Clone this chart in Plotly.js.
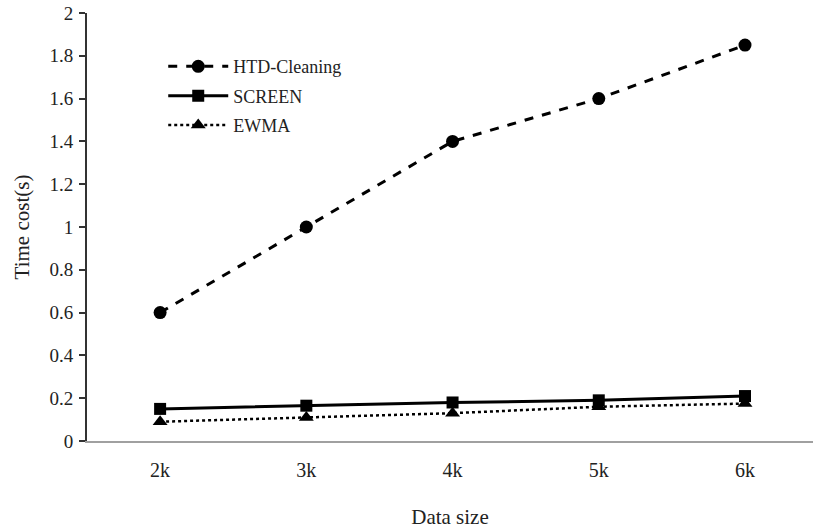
<!DOCTYPE html>
<html><head><meta charset="utf-8">
<script src="https://cdn.plot.ly/plotly-3.0.1.min.js"></script>
<style>html,body{margin:0;padding:0;background:#fff}</style>
</head><body>
<div id="chart" style="width:813px;height:529px"></div>
<script>
const categories = ["2k", "3k", "4k", "5k", "6k"];
const htdCleaning = [0.6, 1.0, 1.4, 1.6, 1.85];
const screen = [0.15, 0.165, 0.18, 0.19, 0.21];
const ewma = [0.09, 0.11, 0.13, 0.16, 0.175];
const yTicks = [0, 0.2, 0.4, 0.6, 0.8, 1, 1.2, 1.4, 1.6, 1.8, 2];

const font = "Liberation Serif, Times New Roman, serif";
const txt = "#222";
const traces = [
  {x: categories, y: htdCleaning, name: "HTD-Cleaning", mode: "lines+markers", legendgroup: "a",
   line: {color: "#000", width: 3, dash: "dash"}, marker: {symbol: "circle", size: 13, color: "#000"}},
  {x: categories, y: screen, name: "SCREEN", mode: "lines+markers", legendgroup: "b",
   line: {color: "#000", width: 3}, marker: {symbol: "square", size: 12, color: "#000"}},
  {x: categories, y: ewma, name: "EWMA", mode: "lines+markers", legendgroup: "c",
   line: {color: "#000", width: 2.5, dash: "dot"}, marker: {symbol: "triangle-up", size: 13, color: "#000"}}
];
const layout = {
  width: 813, height: 529,
  margin: {l: 87, r: 0, t: 13, b: 88},
  paper_bgcolor: "#fff", plot_bgcolor: "#fff",
  font: {family: font, size: 19, color: txt},
  showlegend: true,
  legend: {x: 0.105, y: 0.918, xanchor: "left", yanchor: "top", bgcolor: "rgba(0,0,0,0)",
           font: {family: font, size: 18, color: txt}, tracegroupgap: 3, itemwidth: 60},
  xaxis: {type: "category", range: [-0.5, 4.465], showgrid: false, zeroline: false,
          showline: true, linecolor: "#a0a0a0", linewidth: 2, ticks: "", ticklabelstandoff: 10,
          tickfont: {family: font, size: 20, color: txt},
          title: {text: "Data size", font: {family: font, size: 21, color: txt}, standoff: 30}},
  yaxis: {range: [0, 2], tickvals: yTicks, ticktext: yTicks.map(String), showgrid: false, zeroline: false,
          showline: true, linecolor: "#333", linewidth: 2, ticks: "outside", ticklen: 6, tickwidth: 2, tickcolor: "#333",
          ticklabelstandoff: 2,
          tickfont: {family: font, size: 19, color: txt},
          title: {text: "Time cost(s)", font: {family: font, size: 21, color: txt}, standoff: 14}}
};
Plotly.newPlot("chart", traces, layout, {staticPlot: true, displayModeBar: false});
</script>
</body></html>
